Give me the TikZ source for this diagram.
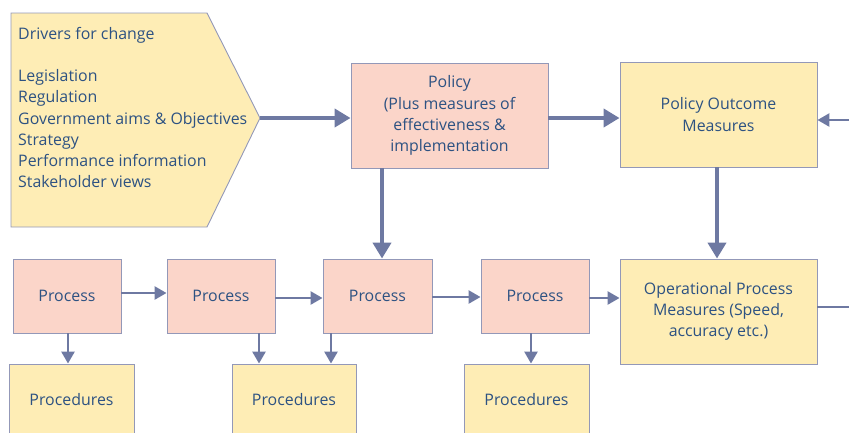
\documentclass[tikz,border=0pt]{standalone}
\usepackage{fontspec}
\setmainfont{Open Sans}
\usetikzlibrary{arrows.meta}
\definecolor{pinkfill}{HTML}{FBD5C9}
\definecolor{yelfill}{HTML}{FEEDB5}
\definecolor{edgecol}{HTML}{9398B8}
\definecolor{arrcol}{HTML}{6E79A2}
\definecolor{txtcol}{HTML}{2D5282}
\tikzset{
  x=1pt, y=-1pt,
  txtfont/.style={font=\fontsize{15.9}{21.2}\selectfont},
  boxbase/.style={draw=edgecol, line width=0.9pt, inner sep=0pt, align=center,
    text=txtcol, txtfont},
  pinkbox/.style={boxbase, fill=pinkfill},
  yelbox/.style={boxbase, fill=yelfill},
  thickarr/.style={draw=arrcol, line width=4pt, -{Triangle[length=16pt,width=18pt]}},
  thinarr/.style={draw=arrcol, line width=2.6pt, -{Triangle[length=12pt,width=13pt]}},
  thinline/.style={draw=arrcol, line width=2.6pt},
}
\begin{document}
\begin{tikzpicture}
\useasboundingbox (0,0) rectangle (849,432);
\clip (0,0) rectangle (849,432);
% drivers pentagon
\draw[draw=edgecol, line width=0.9pt, fill=yelfill]
  (11,13) -- (207,13) -- (260,118) -- (207,227) -- (11,227) -- cycle;
\coordinate (drvtip) at (260,118);
\node[anchor=north west, align=left, text=txtcol, inner sep=0pt, txtfont] (drv) at (18,27)
  {Drivers for change\\[21.2pt]Legislation\\Regulation\\Government aims \& Objectives\\Strategy\\Performance information\\Stakeholder views};
% top row
\node[pinkbox, minimum width=197pt, minimum height=105pt] (pol) at (449.5,115.5)
  {Policy\\(Plus measures of\\effectiveness \&\\implementation};
\node[yelbox, minimum width=197pt, minimum height=105pt] (pom) at (718.5,114.5)
  {Policy Outcome\\Measures};
\node[yelbox, minimum width=197pt, minimum height=105pt] (opm) at (718.5,311.5)
  {Operational Process\\Measures (Speed,\\accuracy etc.)};
% process row
\node[pinkbox, minimum width=108pt, minimum height=74pt] (p1) at (67,296) {Process};
\node[pinkbox, minimum width=108pt, minimum height=74pt] (p2) at (221,296) {Process};
\node[pinkbox, minimum width=109pt, minimum height=74pt] (p3) at (377.5,296) {Process};
\node[pinkbox, minimum width=108pt, minimum height=74pt] (p4) at (535,296) {Process};
% procedures
\node[yelbox, minimum width=125pt, minimum height=72pt] (q1) at (71.5,400) {Procedures};
\node[yelbox, minimum width=124pt, minimum height=72pt] (q2) at (294,400) {Procedures};
\node[yelbox, minimum width=125pt, minimum height=72pt] (q3) at (526.5,400) {Procedures};
% edge coordinates
\coordinate (rin) at (849,120);
\coordinate (rout) at (849,307);
% connectors
\draw[thickarr] (drvtip) -- (pol.west |- drvtip);
\draw[thickarr] (pol.east |- drvtip) -- (pom.west |- drvtip);
\draw[thickarr] (pol.south -| 382,0) -- (p3.north -| 382,0);
\draw[thickarr] (pom.south -| 717,0) -- (opm.north -| 717,0);
\draw[thinarr] (rin) -- (pom.east |- rin);
\draw[thinline] (opm.east |- rout) -- (rout);
\draw[thinarr] (p1.east |- 0,293) -- (p2.west |- 0,293);
\draw[thinarr] (p2.east |- 0,298) -- (p3.west |- 0,298);
\draw[thinarr] (p3.east |- 0,297) -- (p4.west |- 0,297);
\draw[thinarr] (p4.east |- 0,298) -- (opm.west |- 0,298);
\draw[thinarr] (p1.south -| 68,0) -- (q1.north -| 68,0);
\draw[thinarr] (p2.south -| 259,0) -- (q2.north -| 259,0);
\draw[thinarr] (p3.south -| 331,0) -- (q2.north -| 331,0);
\draw[thinarr] (p4.south -| 531,0) -- (q3.north -| 531,0);
\end{tikzpicture}
\end{document}
